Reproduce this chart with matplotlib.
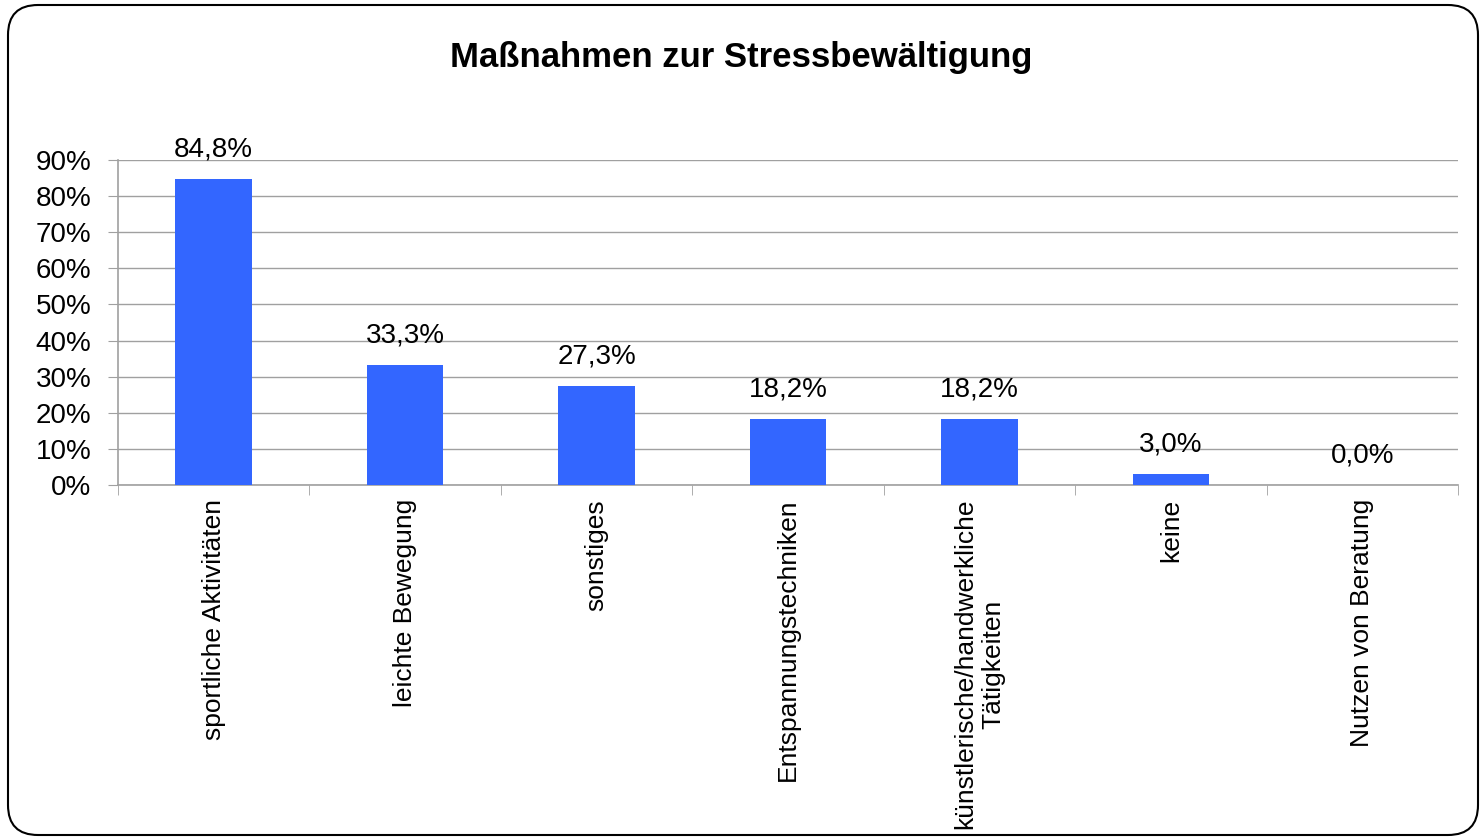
import matplotlib
matplotlib.use("Agg")
import matplotlib.pyplot as plt
from matplotlib.patches import FancyBboxPatch
from matplotlib.ticker import FuncFormatter, FixedLocator

plt.rcParams['font.family'] = ['Liberation Sans', 'DejaVu Sans']

categories = ["sportliche Aktivitäten", "leichte Bewegung", "sonstiges",
              "Entspannungstechniken", "künstlerische/handwerkliche\nTätigkeiten",
              "keine", "Nutzen von Beratung"]
values = [84.8, 33.3, 27.3, 18.2, 18.2, 3.0, 0.0]
yticks = [0, 10, 20, 30, 40, 50, 60, 70, 80, 90]

fig = plt.figure(figsize=(14.82, 8.4), dpi=100)

# rounded frame around the whole chart (inch coordinates)
frame = FancyBboxPatch((0.08, 0.05), 14.70, 8.30,
                       boxstyle="round,pad=0,rounding_size=0.3",
                       transform=fig.dpi_scale_trans, facecolor="none",
                       edgecolor="black", linewidth=1.5, zorder=5)
fig.patches.append(frame)

ax = fig.add_axes([118 / 1482, 1 - 485 / 840, 1340 / 1482, 325 / 840])
ax.set_facecolor("none")

x = list(range(len(categories)))
bars = ax.bar(x, values, width=0.4, color="#3366FF", zorder=3)

for xi, v in zip(x, values):
    ax.annotate(f"{v:.1f}%".replace(".", ","), (xi, v), xytext=(0, 12),
                textcoords="offset points", ha="center", va="bottom", fontsize=20)

ax.set_xlim(-0.5, len(categories) - 0.5)
ax.set_ylim(0, 90)
ax.set_yticks(yticks)
ax.yaxis.set_major_formatter(FuncFormatter(lambda v, p: f"{v:.0f}%"))
ax.grid(axis="y", color="#A0A0A0", linewidth=1, zorder=0)

ax.set_xticks(x)
ax.set_xticklabels(categories, rotation=90, fontsize=19, ha="center", va="top",
                   multialignment="center")
ax.xaxis.set_minor_locator(FixedLocator([i - 0.5 for i in range(len(categories) + 1)]))
ax.tick_params(axis="x", which="major", length=0, pad=10)
ax.tick_params(axis="x", which="minor", length=7, color="#A0A0A0", direction="out")
ax.tick_params(axis="y", length=7, color="#A0A0A0", labelsize=20, pad=12)

for side in ["top", "right"]:
    ax.spines[side].set_visible(False)
for side in ["left", "bottom"]:
    ax.spines[side].set_color("#A0A0A0")
    ax.spines[side].set_linewidth(1.2)

fig.text(0.5, 1 - 57 / 840, "Maßnahmen zur Stressbewältigung", ha="center", va="center",
         fontsize=25, fontweight="bold")

fig.savefig("out.png", dpi=100)
